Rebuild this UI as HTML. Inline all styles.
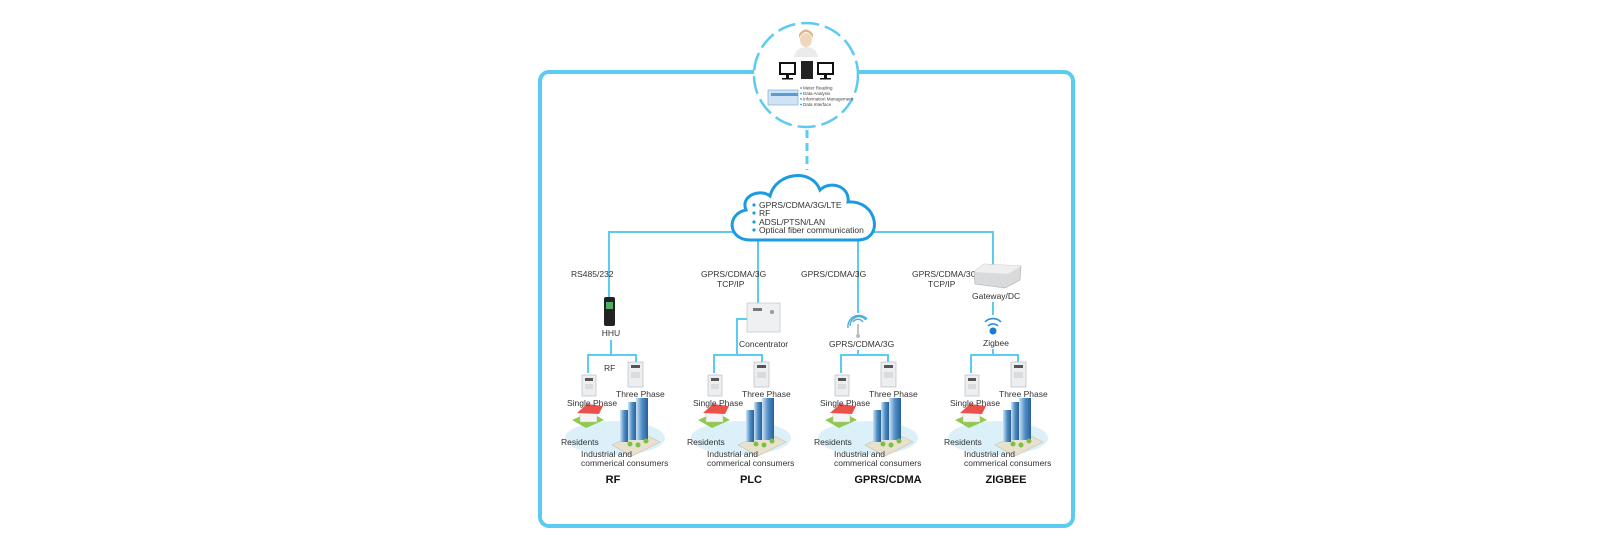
<!DOCTYPE html>
<html><head><meta charset="utf-8"><style>
html,body{margin:0;padding:0;background:#fff;}
svg{display:block;font-family:"Liberation Sans",Arial,sans-serif;}
</style></head><body>
<svg width="1600" height="544" viewBox="0 0 1600 544" xmlns="http://www.w3.org/2000/svg">
<defs>
<linearGradient id="bld" x1="0" x2="1"><stop offset="0" stop-color="#cfe3f3"/><stop offset="0.5" stop-color="#4f8fc7"/><stop offset="1" stop-color="#2a5f98"/></linearGradient>
<g id="meter1"><rect x="0" y="0" width="14" height="21" fill="#eceeef" stroke="#b9bec2" stroke-width="0.7"/><rect x="3" y="3" width="8" height="3" fill="#555"/><rect x="3" y="9" width="8" height="5" fill="#d8dcdf"/></g>
<g id="meter3"><rect x="0" y="0" width="15" height="25" fill="#eceeef" stroke="#b9bec2" stroke-width="0.7"/><rect x="3" y="3" width="9" height="3" fill="#555"/><rect x="3" y="10" width="9" height="6" fill="#d8dcdf"/></g>
<g id="scene">
 <ellipse cx="615" cy="438" rx="50" ry="17" fill="#dcf0fa"/>
 <polygon points="572,420 590,412 604,420 586,428" fill="#8fcb4a"/>
 <rect x="580" y="412" width="17" height="10" fill="#f4f4f4" stroke="#bbb" stroke-width="0.5"/>
 <polygon points="577,413 587,404 603,406 599,414" fill="#e8524a"/>
 <polygon points="612,445 640,432 660,442 632,456" fill="#e8e1cf" stroke="#c9c0a8" stroke-width="0.6"/>
 <rect x="620" y="410" width="8" height="32" fill="url(#bld)"/>
 <rect x="628" y="402" width="8" height="38" fill="url(#bld)"/>
 <rect x="636" y="398" width="12" height="42" fill="url(#bld)"/>
 <circle cx="630" cy="444" r="2.5" fill="#7cc043"/><circle cx="638" cy="445" r="2.5" fill="#7cc043"/><circle cx="646" cy="441" r="2.5" fill="#7cc043"/>
</g>
</defs>

<rect x="540" y="72" width="533" height="454" rx="9" fill="none" stroke="#5ccbf2" stroke-width="4"/>
<circle cx="806" cy="75" r="52" fill="#fff" stroke="#5ccbf2" stroke-width="2.5" stroke-dasharray="18,6"/>
<ellipse cx="806" cy="40" rx="6" ry="7" fill="#f0d6bd"/>
<path d="M799 38 q7 -12 14 0 l0 -4 q-7 -9 -14 0z" fill="#d7b98a"/>
<path d="M794 57 q2 -10 12 -10 q10 0 12 10z" fill="#ebebeb"/>
<rect x="780" y="63" width="15" height="11" fill="#fff" stroke="#111" stroke-width="2"/><rect x="786" y="75" width="3" height="3" fill="#111"/><rect x="782" y="78" width="11" height="1.5" fill="#111"/>
<rect x="801" y="61" width="12" height="18" fill="#222"/>
<rect x="818" y="63" width="15" height="11" fill="#fff" stroke="#111" stroke-width="2"/><rect x="824" y="75" width="3" height="3" fill="#111"/><rect x="820" y="78" width="11" height="1.5" fill="#111"/>
<rect x="768" y="90" width="30" height="15" fill="#cfe3f5" stroke="#8fb6dc" stroke-width="0.8"/>
<rect x="771" y="93" width="27" height="3" fill="#5a9bd5"/>
<g font-size="4.5" fill="#444">
<circle cx="801" cy="88" r="0.9" fill="#1e9be0"/><text x="803" y="89.5">Meter Reading</text>
<circle cx="801" cy="93.5" r="0.9" fill="#1e9be0"/><text x="803" y="95">Data Analysis</text>
<circle cx="801" cy="99" r="0.9" fill="#1e9be0"/><text x="803" y="100.5">Information Management</text>
<circle cx="801" cy="104.5" r="0.9" fill="#1e9be0"/><text x="803" y="106">Data Interface</text>
</g>
<line x1="807" y1="130" x2="807" y2="170" stroke="#5ccbf2" stroke-width="3" stroke-dasharray="8,5"/>

<path d="M609 300 V232 H993 V265 M758 232 V303 M858 232 V313" fill="none" stroke="#5ccbf2" stroke-width="2"/>

<path d="M750 240 C728 240 726 214 746 210 C740 196 760 188 770 196 C776 172 812 168 820 190 C830 180 850 186 848 202 C878 200 884 240 858 240 Z" fill="#fff" stroke="#1c9be0" stroke-width="3"/>
<g font-size="8.5" fill="#333">
<circle cx="754" cy="205" r="1.6" fill="#1c9be0"/><text x="759" y="208">GPRS/CDMA/3G/LTE</text>
<circle cx="754" cy="213" r="1.6" fill="#1c9be0"/><text x="759" y="216">RF</text>
<circle cx="754" cy="222" r="1.6" fill="#1c9be0"/><text x="759" y="225">ADSL/PTSN/LAN</text>
<circle cx="754" cy="230" r="1.6" fill="#1c9be0"/><text x="759" y="233">Optical fiber communication</text>
</g>

<g font-size="8.5" fill="#333">
<text x="571" y="277">RS485/232</text>
<rect x="604" y="297" width="11" height="29" rx="2" fill="#222"/><rect x="606" y="302" width="7" height="7" fill="#5a6"/>
<text x="611" y="336" text-anchor="middle">HHU</text>
<path d="M611 340 V355 M588 373 V355 H636 V362" fill="none" stroke="#5ccbf2" stroke-width="2"/>
<text x="604" y="371">RF</text>
<text x="701" y="277">GPRS/CDMA/3G</text>
<text x="717" y="287">TCP/IP</text>
<rect x="747" y="303" width="33" height="29" fill="#eef0f1" stroke="#c6cace" stroke-width="0.8"/>
<rect x="753" y="308" width="9" height="3" fill="#777"/><circle cx="772" cy="312" r="2" fill="#999"/>
<path d="M747 319 H737 V355 M714 373 V355 H762 V362" fill="none" stroke="#5ccbf2" stroke-width="2"/>
<text x="739" y="347">Concentrator</text>
<text x="801" y="277">GPRS/CDMA/3G</text>
<g fill="none" stroke="#4aa8dd" stroke-width="1.3">
<path d="M853 322 a6 6 0 0 1 10 0"/><path d="M850 326 a9 9 0 0 1 16 -6"/><path d="M848 328 a11 11 0 0 1 19 -9"/>
</g>
<line x1="858" y1="324" x2="858" y2="336" stroke="#999" stroke-width="1.2"/><circle cx="858" cy="336" r="2" fill="#bbb"/>
<text x="829" y="347">GPRS/CDMA/3G</text>
<path d="M858 350 V355 M841 373 V355 H888 V362" fill="none" stroke="#5ccbf2" stroke-width="2"/>
<text x="912" y="277">GPRS/CDMA/3G</text>
<text x="928" y="287">TCP/IP</text>
<polygon points="974,272 984,264 1021,266 1020,280 1005,288 975,284" fill="#d9dadc" stroke="#aaa" stroke-width="0.6"/>
<polygon points="974,272 984,264 1021,266 1008,274" fill="#efeff0"/>
<text x="972" y="299">Gateway/DC</text>
<line x1="993" y1="302" x2="993" y2="315" stroke="#5ccbf2" stroke-width="2"/>
<g fill="none" stroke="#2a8fdc" stroke-width="1.6">
<path d="M988 326 a7 7 0 0 1 10 0"/><path d="M985 322 a11 11 0 0 1 16 0"/>
</g>
<circle cx="993" cy="331" r="3.5" fill="#1c79d0"/>
<text x="983" y="346">Zigbee</text>
<path d="M993 349 V355 M971 373 V355 H1018 V362" fill="none" stroke="#5ccbf2" stroke-width="2"/>
</g>

<g font-size="8.5" fill="#333">
<g transform="translate(0,0)">
<use href="#scene"/><use href="#meter1" x="582" y="375"/><use href="#meter3" x="628" y="362"/>
<text x="567" y="406">Single Phase</text><text x="616" y="397">Three Phase</text>
<text x="561" y="445">Residents</text><text x="581" y="457">Industrial and</text><text x="581" y="466">commerical consumers</text>
</g>
<g transform="translate(126,0)">
<use href="#scene"/><use href="#meter1" x="582" y="375"/><use href="#meter3" x="628" y="362"/>
<text x="567" y="406">Single Phase</text><text x="616" y="397">Three Phase</text>
<text x="561" y="445">Residents</text><text x="581" y="457">Industrial and</text><text x="581" y="466">commerical consumers</text>
</g>
<g transform="translate(253,0)">
<use href="#scene"/><use href="#meter1" x="582" y="375"/><use href="#meter3" x="628" y="362"/>
<text x="567" y="406">Single Phase</text><text x="616" y="397">Three Phase</text>
<text x="561" y="445">Residents</text><text x="581" y="457">Industrial and</text><text x="581" y="466">commerical consumers</text>
</g>
<g transform="translate(383,0)">
<use href="#scene"/><use href="#meter1" x="582" y="375"/><use href="#meter3" x="628" y="362"/>
<text x="567" y="406">Single Phase</text><text x="616" y="397">Three Phase</text>
<text x="561" y="445">Residents</text><text x="581" y="457">Industrial and</text><text x="581" y="466">commerical consumers</text>
</g>
</g>

<g font-size="11" font-weight="bold" fill="#111" text-anchor="middle">
<text x="613" y="483">RF</text><text x="751" y="483">PLC</text><text x="888" y="483">GPRS/CDMA</text><text x="1006" y="483">ZIGBEE</text>
</g>
</svg>
</body></html>
